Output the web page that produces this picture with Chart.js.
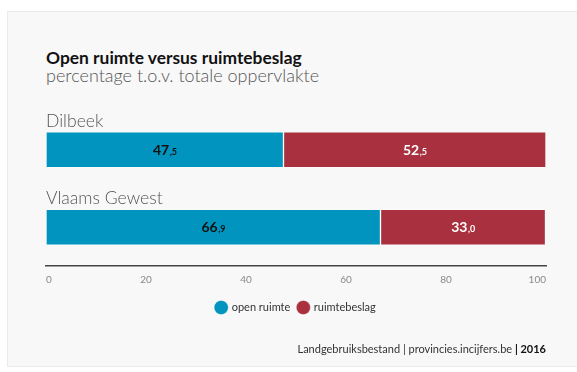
<!DOCTYPE html>
<html>
<head>
<meta charset="utf-8">
<script src="https://cdn.jsdelivr.net/npm/chart.js@4/dist/chart.umd.min.js"></script>
<style>
  html, body { margin: 0; padding: 0; background: #ffffff; }
  body { width: 577px; height: 372px; position: relative; overflow: hidden; font-family: "Lato", "Open Sans", sans-serif; }
  .card { position: absolute; left: 7px; top: 11px; width: 575px; height: 356px; background: #f8f8f8; border: 1px solid #ebebeb; box-sizing: border-box; }
  #wrap { position: absolute; left: 0; top: 0; width: 577px; height: 372px; }
  .title { position: absolute; left: 46px; top: 47px; font-size: 17.4px; font-weight: 700; color: #111; white-space: nowrap; }
  .subtitle { position: absolute; left: 46px; top: 64px; font-size: 18px; font-weight: 300; color: #555; white-space: nowrap; }
  .source { position: absolute; right: 31px; top: 342px; font-size: 11px; color: #333; white-space: nowrap; }
  .source b { color: #111; }
</style>
</head>
<body>
<div class="card"></div>
<div class="title">Open ruimte versus ruimtebeslag</div>
<div class="subtitle">percentage t.o.v. totale oppervlakte</div>
<div id="wrap"><canvas id="chart"></canvas></div>
<div class="source">Landgebruiksbestand | provincies.incijfers.be <b>| 2016</b></div>
<script>
const categories = ['Dilbeek', 'Vlaams Gewest'];
const openRuimte = [47.5, 66.9];
const ruimtebeslag = [52.5, 33.0];
const seriesNames = ['open ruimte', 'ruimtebeslag'];
const tickValues = [0, 20, 40, 60, 80, 100];

const BLUE = '#0094be';
const RED = '#a8303f';
const FONT = '"Lato", "Open Sans", sans-serif';

// Value labels inside each segment: integer part large, decimals small ("47,5")
const valueLabels = {
  id: 'valueLabels',
  afterDatasetsDraw(chart) {
    const ctx = chart.ctx;
    chart.data.datasets.forEach((ds, di) => {
      const meta = chart.getDatasetMeta(di);
      meta.data.forEach((bar, i) => {
        const v = ds.data[i];
        const parts = v.toFixed(1).split('.');
        const big = parts[0];
        const small = ',' + parts[1];
        ctx.save();
        ctx.fillStyle = di === 0 ? '#111111' : '#ffffff';
        ctx.textBaseline = 'alphabetic';
        ctx.font = 'bold 14px ' + FONT;
        const wb = ctx.measureText(big).width;
        ctx.font = 'bold 9px ' + FONT;
        const ws = ctx.measureText(small).width;
        const cx = (bar.x + bar.base) / 2;
        const x0 = cx - (wb + ws) / 2;
        const y = bar.y + 5;
        ctx.font = 'bold 14px ' + FONT;
        ctx.textAlign = 'left';
        ctx.fillText(big, x0, y);
        ctx.font = 'bold 9px ' + FONT;
        ctx.fillText(small, x0 + wb + 0.5, y);
        ctx.restore();
      });
    });
  }
};

// Category names written above each bar
const categoryLabels = {
  id: 'categoryLabels',
  afterDatasetsDraw(chart) {
    const ctx = chart.ctx;
    const meta = chart.getDatasetMeta(0);
    const left = chart.chartArea.left;
    meta.data.forEach((bar, i) => {
      ctx.save();
      ctx.font = '300 17.6px ' + FONT;
      ctx.fillStyle = '#555555';
      ctx.textAlign = 'left';
      ctx.textBaseline = 'alphabetic';
      ctx.fillText(categories[i], left, bar.y - bar.height / 2 - 5);
      ctx.restore();
    });
  }
};

new Chart(document.getElementById('chart'), {
  type: 'bar',
  data: {
    labels: categories,
    datasets: [
      { label: seriesNames[0], data: openRuimte, backgroundColor: BLUE, borderColor: 'rgba(255,255,255,0.35)', borderWidth: 1, borderSkipped: false },
      { label: seriesNames[1], data: ruimtebeslag, backgroundColor: RED, borderColor: 'rgba(255,255,255,0.35)', borderWidth: 1, borderSkipped: false }
    ]
  },
  options: {
    indexAxis: 'y',
    responsive: true,
    maintainAspectRatio: false,
    animation: false,
    barThickness: 36,
    layout: { padding: { left: 46, right: 31, top: 111, bottom: 49 } },
    scales: {
      x: {
        stacked: true,
        min: 0,
        max: 100,
        afterBuildTicks(scale) { scale.ticks = tickValues.map(v => ({ value: v })); },
        grid: { display: false, drawTicks: false },
        border: { display: true, color: '#444444', width: 1.5 },
        ticks: { color: '#888888', font: { family: FONT, size: 10 }, padding: 8, align: 'inner', maxRotation: 0 }
      },
      y: {
        stacked: true,
        display: false
      }
    },
    plugins: {
      legend: {
        position: 'bottom',
        labels: {
          usePointStyle: true,
          pointStyle: 'circle',
          boxWidth: 10,
          boxHeight: 10,
          padding: 8,
          color: '#333333',
          font: { family: FONT, size: 11 }
        }
      },
      tooltip: { enabled: false }
    }
  },
  plugins: [valueLabels, categoryLabels]
});
</script>
</body>
</html>
